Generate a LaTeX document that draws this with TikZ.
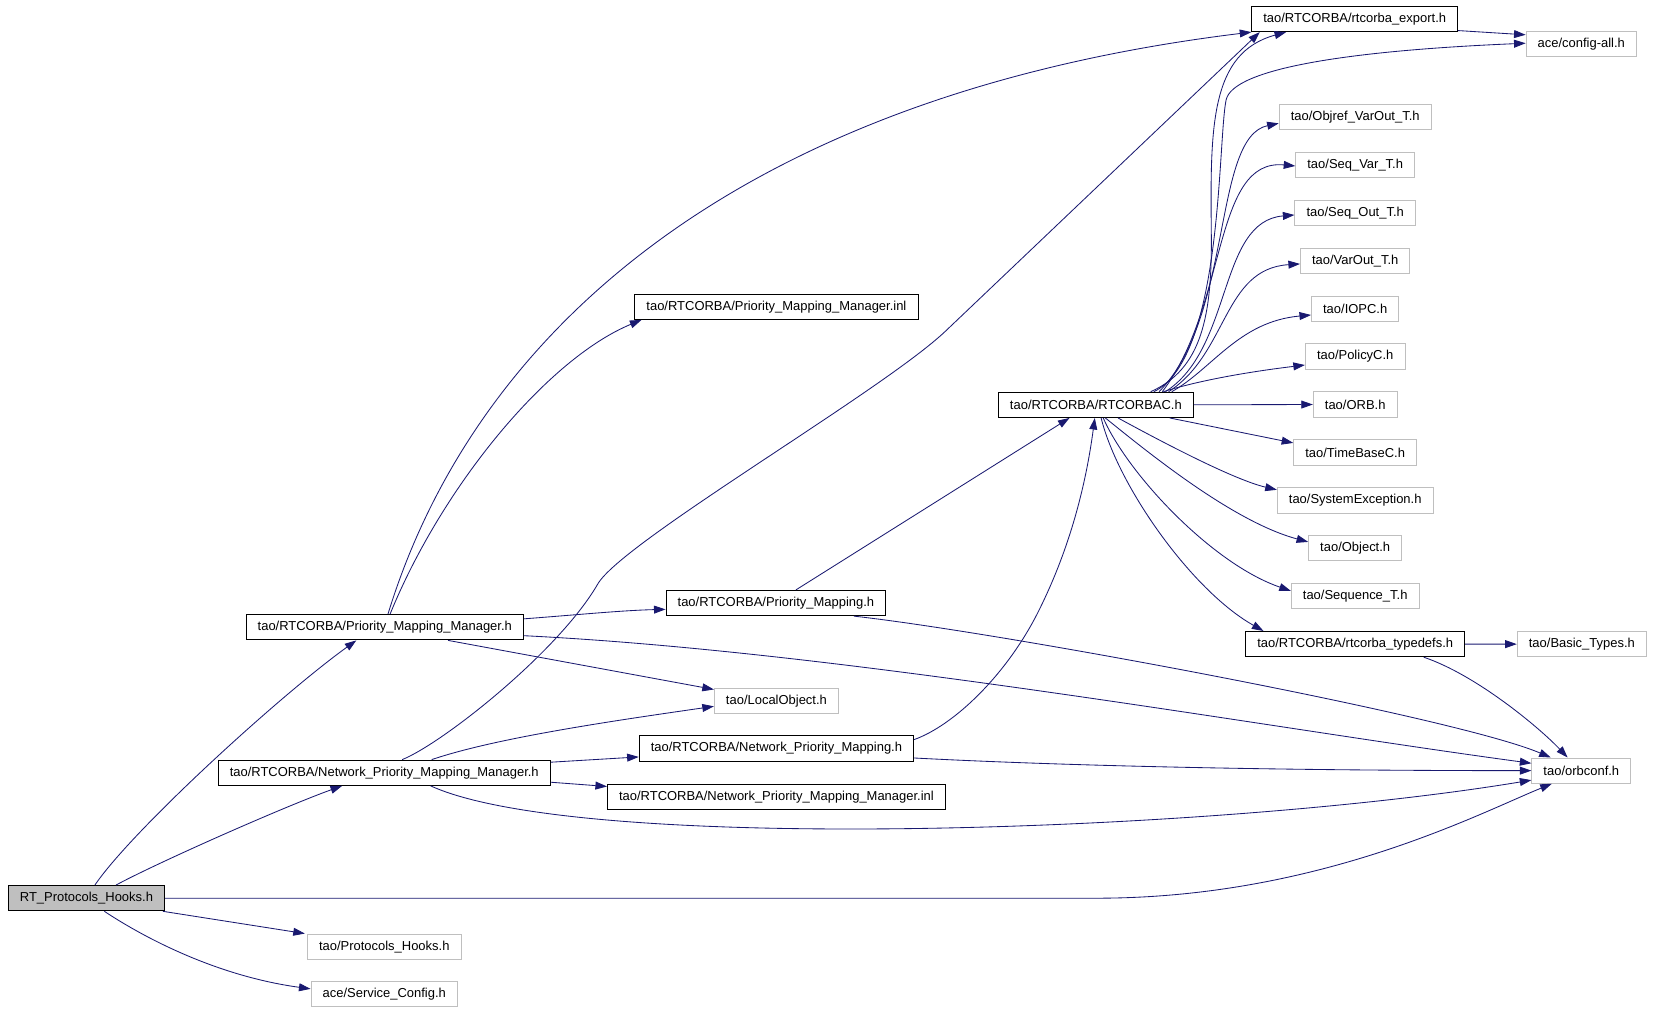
\documentclass[tikz,border=0pt]{standalone}
\usepackage{fontspec}
\setmainfont{Liberation Sans}
\usetikzlibrary{positioning,arrows.meta}
\definecolor{incblue}{HTML}{191970}
\definecolor{extgray}{HTML}{BFBFBF}

\begin{document}
\begin{tikzpicture}[x=1pt,y=-1pt,
      every node/.style={font=\fontsize{12.3}{14}\selectfont,minimum height=24pt,
        inner xsep=11pt,inner ysep=0pt,line width=0.9pt},
      hdr/.style={draw=black},
      ext/.style={draw=extgray},
      rootfile/.style={draw=black,fill=extgray},
      incl/.style={draw=incblue,line width=0.8pt,-{Triangle[length=11pt,width=7.5pt]}},
      node distance=20.55pt]

      \useasboundingbox (0,0) rectangle (1568,959);

      \node[rootfile] (rt-hooks) at (82,852) {RT\_Protocols\_Hooks.h};
      \node[hdr] (pmm) at (365,595) {tao/RTCORBA/Priority\_Mapping\_Manager.h};
      \node[hdr] (npmm) at (364.5,733) {tao/RTCORBA/Network\_Priority\_Mapping\_Manager.h};
      \node[ext] (proto-hooks) at (364.5,898) {tao/Protocols\_Hooks.h};
      \node[ext] (svc-config) at (364.5,943) {ace/Service\_Config.h};
      \node[hdr] (pmm-inl) at (736.5,291) {tao/RTCORBA/Priority\_Mapping\_Manager.inl};
      \node[hdr] (pm) at (736,572) {tao/RTCORBA/Priority\_Mapping.h};
      \node[ext] (local-obj) at (736.5,665) {tao/LocalObject.h};
      \node[hdr] (npm) at (736.5,710) {tao/RTCORBA/Network\_Priority\_Mapping.h};
      \node[hdr] (npmm-inl) at (736.5,756) {tao/RTCORBA/Network\_Priority\_Mapping\_Manager.inl};
      \node[hdr] (rtcorbac) at (1039.5,384) {tao/RTCORBA/RTCORBAC.h};
      \node[hdr] (rt-export) at (1285,18) {tao/RTCORBA/rtcorba\_export.h};
      \node[ext] (objref) at (1285.5,111) {tao/Objref\_VarOut\_T.h};
      \node[ext,below=of objref] (seq-var) {tao/Seq\_Var\_T.h};
      \node[ext,below=of seq-var] (seq-out) {tao/Seq\_Out\_T.h};
      \node[ext,below=of seq-out] (varout) {tao/VarOut\_T.h};
      \node[ext,below=of varout] (iopc) {tao/IOPC.h};
      \node[ext,below=of iopc] (policyc) {tao/PolicyC.h};
      \node[ext,below=of policyc] (orb) {tao/ORB.h};
      \node[ext,below=of orb] (timebase) {tao/TimeBaseC.h};
      \node[ext,below=of timebase] (sys-exc) {tao/SystemException.h};
      \node[ext,below=of sys-exc] (object) {tao/Object.h};
      \node[ext,below=of object] (sequence) {tao/Sequence\_T.h};
      \node[hdr,below=of sequence] (typedefs) {tao/RTCORBA/rtcorba\_typedefs.h};
      \node[ext] (config-all) at (1500,42) {ace/config-all.h};
      \node[ext] (basic-types) at (1500.5,611) {tao/Basic\_Types.h};
      \node[ext] (orbconf) at (1500,731) {tao/orbconf.h};

      \draw[incl] ([xshift=8pt]rt-hooks.north) .. controls (125,788) and (265,660) .. ([xshift=-27pt]pmm.south);
      \draw[incl] ([xshift=28pt]rt-hooks.north) .. controls (150,818) and (270,765) .. ([xshift=-40pt]npmm.south);
      \draw[incl] (rt-hooks.east) -- (1040,852) .. controls (1250,852) and (1402,772) .. ([xshift=-28pt]orbconf.south);
      \draw[incl] ([xshift=-2pt]rt-hooks.south east) -- ([xshift=-2pt]proto-hooks.north west);
      \draw[incl] ([xshift=17pt]rt-hooks.south) .. controls (130,885) and (200,925) .. ([yshift=5pt]svc-config.west);

      \draw[incl] ([xshift=3pt]pmm.north) .. controls (450,315) and (700,90) .. ([xshift=-98pt]rt-export.south);
      \draw[incl] ([xshift=5pt]pmm.north) .. controls (420,460) and (520,340) .. ([xshift=-128pt]pmm-inl.south);
      \draw[incl] ([yshift=8pt]pmm.east) .. controls (550,583) and (590,579) .. ([yshift=-6pt]pm.west);
      \draw[incl] ([xshift=60pt]pmm.south) -- ([yshift=11pt]local-obj.west);
      \draw[incl] ([yshift=-8pt]pmm.east) .. controls (800,618) and (1200,690) .. ([yshift=7pt]orbconf.west);

      \draw[incl] ([xshift=17pt]npmm.north) .. controls (420,705) and (530,618) .. (567,554)
        .. controls (590,514) and (837,371) .. (897,314) -- ([xshift=-90pt]rt-export.south);
      \draw[incl] ([xshift=45pt]npmm.north) .. controls (470,700) and (580,684) .. ([yshift=-5pt]local-obj.west);
      \draw[incl] ([yshift=10pt]npmm.east) -- ([yshift=-8pt]npm.west);
      \draw[incl] ([yshift=-9pt]npmm.east) -- ([yshift=10pt]npmm-inl.west);
      \draw[incl] ([xshift=44pt]npmm.south) .. controls (550,810) and (1150,790) .. ([yshift=-9pt]orbconf.west);

      \draw[incl] ([xshift=19pt]pm.north) -- ([xshift=-25pt]rtcorbac.south);
      \draw[incl] ([xshift=74pt]pm.south) .. controls (950,600) and (1380,680) .. ([xshift=-29pt]orbconf.north);
      \draw[incl] ([yshift=-4pt]npm.north east) .. controls (905,688) and (955,640) .. (985,580)
        .. controls (1015,520) and (1030,460) .. ([xshift=-1pt]rtcorbac.south);
      \draw[incl] ([yshift=-9pt]npm.east) .. controls (1000,726) and (1200,731) .. (orbconf.west);

      \draw[incl] ([xshift=52pt]rtcorbac.north) .. controls (1140,350) and (1150,300) .. (1149,220)
        .. controls (1148,120) and (1148,50) .. ([xshift=-65pt]rt-export.south);
      \draw[incl] ([xshift=55pt]rtcorbac.north) .. controls (1160,340) and (1155,135) .. (1163,95)
        .. controls (1169,65) and (1280,48) .. ([yshift=1pt]config-all.west);
      \draw[incl] ([xshift=60pt]rtcorbac.north) .. controls (1170,300) and (1150,130) .. ([yshift=-6pt]objref.west);
      \draw[incl] ([xshift=63pt]rtcorbac.north) .. controls (1165,290) and (1150,150) .. ([yshift=-1pt]seq-var.west);
      \draw[incl] ([xshift=66pt]rtcorbac.north) .. controls (1170,330) and (1155,210) .. ([yshift=-2pt]seq-out.west);
      \draw[incl] ([xshift=69pt]rtcorbac.north) .. controls (1165,335) and (1160,255) .. ([yshift=-3pt]varout.west);
      \draw[incl] ([xshift=72pt]rtcorbac.north) .. controls (1150,350) and (1175,305) .. ([yshift=-6pt]iopc.west);
      \draw[incl] ([xshift=64pt]rtcorbac.north) .. controls (1140,360) and (1190,352) .. ([yshift=-8pt]policyc.west);
      \draw[incl] (rtcorbac.east) -- (orb.west);
      \draw[incl] ([xshift=70pt]rtcorbac.south) -- ([yshift=9pt]timebase.west);
      \draw[incl] ([xshift=21pt]rtcorbac.south) .. controls (1100,418) and (1170,455) .. ([yshift=10pt]sys-exc.west);
      \draw[incl] ([xshift=9pt]rtcorbac.south) .. controls (1090,430) and (1170,495) .. ([yshift=6pt]object.west);
      \draw[incl] ([xshift=7pt]rtcorbac.south) .. controls (1070,450) and (1150,535) .. ([yshift=5pt]sequence.west);
      \draw[incl] ([xshift=5pt]rtcorbac.south) .. controls (1060,460) and (1130,560) .. ([xshift=-87pt]typedefs.north);

      \draw[incl] ([yshift=-11pt]rt-export.east) -- ([yshift=9pt]config-all.west);
      \draw[incl] (typedefs.east) -- (basic-types.west);
      \draw[incl] ([xshift=65pt]typedefs.south) .. controls (1400,640) and (1460,690) .. ([xshift=-13pt]orbconf.north);
    \end{tikzpicture}
\end{document}
